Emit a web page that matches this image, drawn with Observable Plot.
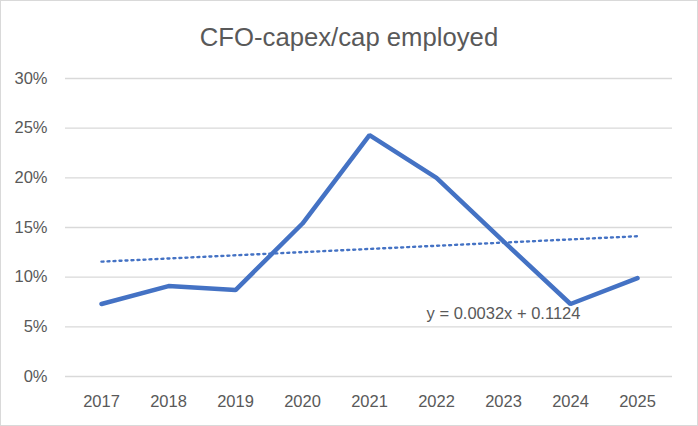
<!DOCTYPE html>
<html>
<head>
<meta charset="utf-8">
<script src="https://cdn.jsdelivr.net/npm/d3@7"></script>
<script src="https://cdn.jsdelivr.net/npm/@observablehq/plot@0.6"></script>
<style>
  html, body { margin: 0; padding: 0; background: #fff; }
  #wrap { position: relative; width: 698px; height: 426px; overflow: hidden; background: #fff; }
  #title { position: absolute; left: 0; width: 698px; top: 25px; text-align: center;
           font-family: "Liberation Sans", Arial, sans-serif; font-size: 25.7px; line-height: 1; color: #595959; }
  #border { position: absolute; left: 0; top: 0; width: 698px; height: 426px; box-sizing: border-box;
            border: 1px solid #d9d9d9; pointer-events: none; }
  svg { display: block; }
</style>
</head>
<body>
<div id="wrap">
  <div id="chart"></div>
  <div id="title">CFO-capex/cap employed</div>
  <div id="border"></div>
</div>
<script>
const years = ["2017", "2018", "2019", "2020", "2021", "2022", "2023", "2024", "2025"];
const values = [0.073, 0.091, 0.087, 0.154, 0.243, 0.200, 0.136, 0.073, 0.099];
const trendYears = ["2017", "2025"];
const trendValues = [0.1156, 0.1412];
const yTicks = [0, 0.05, 0.10, 0.15, 0.20, 0.25, 0.30];
const equationLabel = "y = 0.0032x + 0.1124";
const equationAt = { year: "2023", value: 0.0635 };

const series = years.map((y, i) => ({ year: y, value: values[i] }));
const trend = trendYears.map((y, i) => ({ year: y, value: trendValues[i] }));

const chart = Plot.plot({
  width: 698,
  height: 426,
  marginTop: 78,
  marginBottom: 50,
  marginLeft: 65,
  marginRight: 26,
  style: { fontFamily: "'Liberation Sans', Arial, sans-serif", fontSize: "16.5px", color: "#595959", background: "transparent" },
  x: { type: "point", domain: years, padding: 0.5, label: null },
  y: { domain: [0, 0.30], label: null },
  marks: [
    Plot.gridY(yTicks, { stroke: "#d9d9d9", strokeOpacity: 1, strokeWidth: 1.3 }),
    Plot.axisY(yTicks, { tickSize: 0, tickPadding: 18, tickFormat: d3.format(".0%"), label: null, fill: "#595959", fontSize: 16.5 }),
    Plot.axisX({ tickSize: 0, tickPadding: 19, label: null, fill: "#595959", fontSize: 16.5 }),
    Plot.line(trend, { x: "year", y: "value", stroke: "#4472C4", strokeWidth: 2.4, strokeDasharray: "2,4" }),
    Plot.line(series, { x: "year", y: "value", stroke: "#4472C4", strokeWidth: 4.5, strokeLinejoin: "miter", strokeLinecap: "round" }),
    Plot.text([equationAt], { x: "year", y: "value", text: () => equationLabel, fill: "#595959", fontSize: 16.5, textAnchor: "middle" })
  ]
});
document.getElementById("chart").appendChild(chart);
</script>
</body>
</html>
